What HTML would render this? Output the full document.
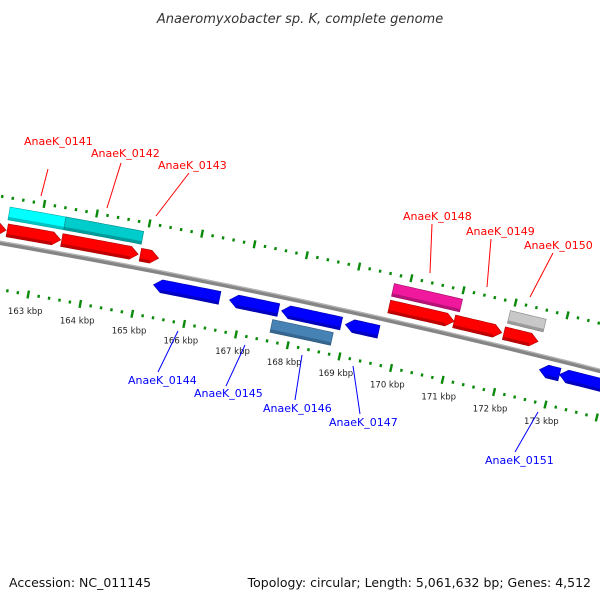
<!DOCTYPE html>
<html><head><meta charset="utf-8"><style>
body{margin:0;background:#fff}
svg{display:block;font-family:"DejaVu Sans","Liberation Sans",sans-serif}
</style></head><body>
<svg id="map" width="600" height="600" viewBox="0 0 600 600">
<text x="300" y="23" text-anchor="middle" font-size="13" font-style="italic" fill="#333">Anaeromyxobacter sp. K, complete genome</text>
<g id="ticks"></g>
<g id="backbone"></g>
<g id="genes"></g>
<g id="labels" font-size="11">
<line x1="48" y1="169" x2="41" y2="196" stroke="#f00"/><text x="24" y="145" fill="#f00">AnaeK_0141</text>
<line x1="121" y1="163" x2="107" y2="208" stroke="#f00"/><text x="91" y="157" fill="#f00">AnaeK_0142</text>
<line x1="189" y1="173" x2="156" y2="216" stroke="#f00"/><text x="158" y="169" fill="#f00">AnaeK_0143</text>
<line x1="432" y1="224" x2="430" y2="273" stroke="#f00"/><text x="403" y="220" fill="#f00">AnaeK_0148</text>
<line x1="491" y1="239" x2="487" y2="287" stroke="#f00"/><text x="466" y="235" fill="#f00">AnaeK_0149</text>
<line x1="553" y1="253" x2="530" y2="297" stroke="#f00"/><text x="524" y="249" fill="#f00">AnaeK_0150</text>
<line x1="158" y1="372" x2="178" y2="331" stroke="#00f"/><text x="128" y="384" fill="#00f">AnaeK_0144</text>
<line x1="226" y1="386" x2="245" y2="345" stroke="#00f"/><text x="194" y="397" fill="#00f">AnaeK_0145</text>
<line x1="295" y1="400" x2="302" y2="355" stroke="#00f"/><text x="263" y="412" fill="#00f">AnaeK_0146</text>
<line x1="360" y1="414" x2="353" y2="366" stroke="#00f"/><text x="329" y="426" fill="#00f">AnaeK_0147</text>
<line x1="515" y1="452" x2="538" y2="412" stroke="#00f"/><text x="485" y="464" fill="#00f">AnaeK_0151</text>
</g>
<text x="9" y="587" font-size="12.5" fill="#111">Accession: NC_011145</text>
<text x="591" y="587" font-size="12.5" fill="#111" text-anchor="end">Topology: circular; Length: 5,061,632 bp; Genes: 4,512</text>
</svg>
<script>
// gene data (kbp)
const geneStart = [161.5,162.40,163.44,164.94,169.71,170.96,171.92, 162.38,163.44,169.71,171.94, 165.29,166.75,167.75,168.98,172.73,173.12, 167.62];
const geneEnd   = [162.38,163.42,164.90,165.29,170.96,171.88,172.58, 163.44,164.92,171.02,172.63, 166.56,167.69,168.90,169.62,173.12,174.3, 168.79];
const geneTrack = [1,1,1,1,1,1,1, 2,2,2,2, -1,-1,-1,-1,-1,-1, -2];
const geneColor = ["#f00","#f00","#f00","#f00","#f00","#f00","#f00","#0ff","#0cc","#f0a0c0","#c8c8c8","#00f","#00f","#00f","#00f","#00f","#00f","#4682b4"];
const tickLabels = [163,164,165,166,167,168,169,170,171,172,173];
const tickStart = 161, tickEnd = 175;

const NS="http://www.w3.org/2000/svg";
const CX=-1368, CY=8125, R=8000;
const A0=-79.89*Math.PI/180, K=0.381*Math.PI/180;
geneColor[9]="#f0189c";
function ang(k){return A0+K*(k-163);}
function pt(k,r){const a=ang(k);return [CX+r*Math.cos(a),CY+r*Math.sin(a)];}
function mk(tag,attrs,parent){const e=document.createElementNS(NS,tag);for(const k in attrs)e.setAttribute(k,attrs[k]);parent.appendChild(e);return e;}
function arcPts(k1,k2,r){const n=12,p=[];for(let i=0;i<=n;i++)p.push(pt(k1+(k2-k1)*i/n,r));return p;}
function P(a){return a.map(p=>p[0].toFixed(2)+","+p[1].toFixed(2)).join(" ");}

// backbone
const bb=document.getElementById('backbone');
const bbPath=mk('polyline',{points:P(arcPts(160,176,R)),fill:'none',stroke:'#858585','stroke-width':4.5},bb);


const bbHi=mk('polyline',{points:P(arcPts(160,176,R+1.6)),fill:'none',stroke:'#b5b5b5','stroke-width':1.2},bb);



// ticks
const tg=document.getElementById('ticks');
[8046,7954].forEach((r,ti)=>{
  for(let i=Math.round(tickStart*5);i<=tickEnd*5;i++){
    const k=i/5, major=(i%5===0), h=major?4:1.5;
    const a=pt(k,r-h), b=pt(k,r+h);
    const t=mk('line',{x1:a[0],y1:a[1],x2:b[0],y2:b[1],stroke:'#0a8a0a','stroke-width':2.4},tg);
    
    
  }
});
tickLabels.forEach(v=>{
  const p=pt(v,7954-17);
  const t=mk('text',{x:p[0],y:p[1]+3,'text-anchor':'middle','font-size':8.5,fill:'#222'},tg);
  t.textContent=v+' kbp';
  
  
});

// genes
const gg=document.getElementById('genes');
const trackR={1:[8007,8020],2:[8024,8037],'-1':[7980,7993],'-2':[7963,7976]};
function shade(c){const m={"#f00":"#a00","#0ff":"#0aa","#0cc":"#088","#f0189c":"#a01068","#c8c8c8":"#888","#00f":"#00a","#4682b4":"#2e5a80"};return m[c]||"#444";}
for(let i=0;i<geneStart.length;i++){
  const t=geneTrack[i], [r0,r1]=trackR[t], s=geneStart[i], e=geneEnd[i];
  const arrow=(t===1||t===-1), ah=8/ (R*K);
  let pts;
  if(arrow && t===1){
    const eb=Math.max(s,e-ah);
    pts=arcPts(s,eb,r1).concat([pt(e,(r0+r1)/2)]).concat(arcPts(s,eb,r0).reverse());
  } else if(arrow){
    const sb=Math.min(e,s+ah);
    pts=[pt(s,(r0+r1)/2)].concat(arcPts(sb,e,r1)).concat(arcPts(sb,e,r0).reverse());
  } else {
    pts=arcPts(s,e,r1).concat(arcPts(s,e,r0).reverse());
  }
  const g=mk('polygon',{points:P(pts),fill:geneColor[i],stroke:shade(geneColor[i]),'stroke-width':0.6},gg);
  
  
  // lower shadow band
  const lo=Math.min(r0,r1)+0, hi=lo+3;
  const s2=arrow&&t===-1?s+ah:s, e2=arrow&&t===1?e-ah:e;
  const sh=mk('polygon',{points:P(arcPts(s2,e2,hi).concat(arcPts(s2,e2,lo).reverse())),fill:shade(geneColor[i]),opacity:0.7},gg);
  
  
}
</script>
</body></html>
